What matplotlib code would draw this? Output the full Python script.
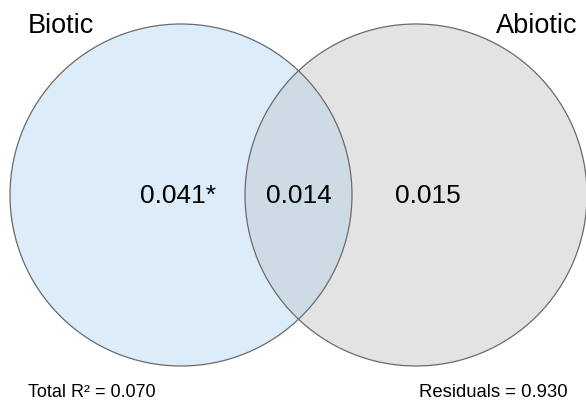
import matplotlib
matplotlib.use('Agg')
import matplotlib.pyplot as plt
from matplotlib.patches import Circle

# Variance partitioning values
set_names = ["Biotic", "Abiotic"]
region_labels = ["0.041*", "0.014", "0.015"]
total_r2 = "0.070"
residuals = "0.930"

plt.rcParams['font.family'] = ['Liberation Sans', 'DejaVu Sans']

fig = plt.figure(figsize=(5.86, 4.03), dpi=100)
ax = fig.add_axes([0, 0, 1, 1])
ax.set_xlim(0, 586)
ax.set_ylim(403, 0)
ax.set_aspect('equal')
ax.axis('off')

# circle layout (pixel units)
r = 171
left_c = (181, 195)
right_c = (416, 195)

left = Circle(left_c, r, facecolor='#dcedf9', edgecolor='none', zorder=1)
right = Circle(right_c, r, facecolor='#e3e3e3', edgecolor='none', zorder=2)
ax.add_patch(left)
ax.add_patch(right)

# overlap region: left circle clipped by right circle
lens = Circle(left_c, r, facecolor='#cddbe5', edgecolor='none', zorder=3)
ax.add_patch(lens)
clip = Circle(right_c, r, transform=ax.transData)
lens.set_clip_path(clip)

# outlines
for c in (left_c, right_c):
    ax.add_patch(Circle(c, r, facecolor='none', edgecolor='#6a6a6a', lw=0.9, zorder=4))

# set names
ax.text(28, 33, set_names[0], fontsize=19.5, ha='left', va='baseline', zorder=5)
ax.text(577, 33, set_names[1], fontsize=19.5, ha='right', va='baseline', zorder=5)

# region values
region_x = [178, 299, 428]
for x, lab in zip(region_x, region_labels):
    ax.text(x, 203, lab, fontsize=19, ha='center', va='baseline', zorder=5)

ax.text(28, 397, "Total R\u00b2 = " + total_r2, fontsize=13, ha='left', va='baseline', zorder=5)
ax.text(568, 397, "Residuals = " + residuals, fontsize=13.3, ha='right', va='baseline', zorder=5)

plt.savefig("out.png", dpi=100)
